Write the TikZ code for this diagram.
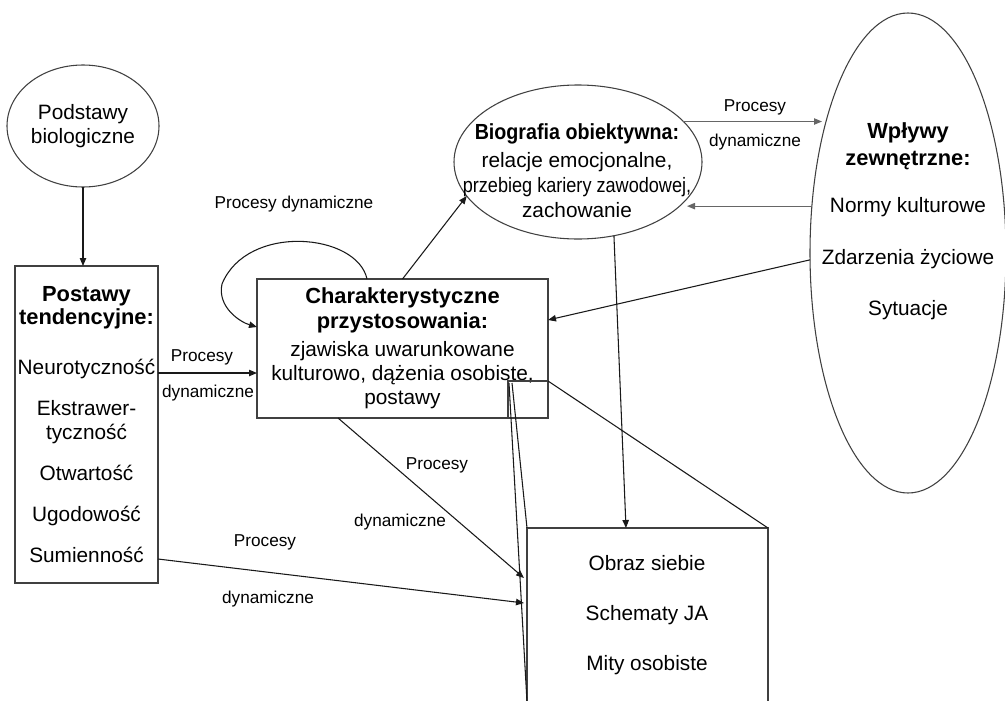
\documentclass[tikz,border=0pt]{standalone}
\usepackage{fontspec}
\setmainfont{Liberation Sans}
\usepackage{graphicx}
\usetikzlibrary{shapes.geometric,arrows.meta,calc}
\newcommand\myhd[1]{{\fontsize{16.4pt}{18pt}\selectfont\bfseries #1}}
\begin{document}
\begin{tikzpicture}[x=0.75pt,y=-0.75pt,
  shp/.style={draw=black!75, line width=0.8pt, inner sep=0pt, outer sep=0pt},
  main/.style={font=\fontsize{15.6pt}{18pt}\selectfont, align=center, inner sep=0pt},
  lab/.style={font=\fontsize{12.9pt}{15pt}\selectfont, inner sep=0pt},
  conn/.style={draw=black!90, line width=0.8pt},
  arr/.style={conn, -{Triangle[length=6pt,width=4.8pt]}},
  garr/.style={arr, draw=black!60}]
\useasboundingbox (0,0) rectangle (1005,700);
\clip (0,0) rectangle (1005,700);

% shapes
\node[shp, ellipse, minimum width=114pt, minimum height=91.5pt, main] (bio) at (83,126) {Podstawy\\biologiczne};
\node[shp, rectangle, minimum width=107.25pt, minimum height=237.75pt, main] (post) at (86.5,424.5)
  {\myhd{Postawy}\\[-0.75pt]\myhd{tendencyjne:}\\[19.5pt]Neurotyczność\\[12.75pt]Ekstrawer-\\tyczność\\[12.75pt]Otwartość\\[12.75pt]Ugodowość\\[12.75pt]Sumienność};
\node[shp, rectangle, minimum width=218.25pt, minimum height=104.25pt, main] (char) at (402.5,348.5)
  {\myhd{Charakterystyczne}\\[0.75pt]\myhd{przystosowania:}\\[3pt]zjawiska uwarunkowane\\kulturowo, dążenia osobiste,\\postawy};
\node[shp, ellipse, minimum width=186pt, minimum height=115.5pt] (biog) at (578,162) {};
\node[main] (biogtxt) at (577,171)
  {\scalebox{0.9}[1]{\myhd{Biografia obiektywna:}}\\[3pt]relacje emocjonalne,\\[0.75pt]\scalebox{0.87}[1]{przebieg kariery zawodowej,}\\[0.75pt]zachowanie};
\node[shp, ellipse, minimum width=147pt, minimum height=360pt] (W) at (908,253) {};
\node[main] (Wtxt) at (908,221.5)
  {\myhd{Wpływy}\\[2.25pt]\myhd{zewnętrzne:}\\[17.25pt]Normy kulturowe\\[21pt]Zdarzenia życiowe\\[20.25pt]Sytuacje};
\node[shp, rectangle, minimum width=180.75pt, minimum height=130.5pt] (box) at (647.5,615) {};
\node[main] (boxtxt) at (647,615) {Obraz siebie\\[19.5pt]Schematy JA\\[19.5pt]Mity osobiste};
\node[shp, rectangle, minimum width=30pt, minimum height=27.75pt, anchor=south east] (mag) at (char.south east) {};

% connectors
\draw[arr] (bio.south) -- (bio.south |- post.north);
\draw[arr] ($(post.north east)+(0,107)$) -- ($(char.north west)+(0,94)$);
\coordinate (cn) at (char.north west);
\draw[arr] ($(cn)+(110,0)$) .. controls ($(cn)+(100,-46)$) and ($(cn)+(-10,-56)$) .. ($(cn)+(-35,5)$)
  .. controls ($(cn)+(-40,28)$) and ($(cn)+(-17,43)$) .. ($(cn)+(0,48)$);
\draw[arr] (char.north) -- (biog.197.4);
\draw[garr] (biog.21.3) -- ($(biog.21.3 -| W.west)+(12,0)$);
\draw[garr] (W.154) -- ($(W.154 -| biog.east)+(-15,0)$);
\draw[arr] (W.184) -- ($(char.north east)+(0,41)$);
\draw[arr] (biog.-64.7) -- ($(box.north west)+(99,0)$);
\draw[arr] ($(char.south west)+(81,0)$) -- ($(box.north west)+(-3,50)$);
\draw[arr] ($(post.south east)+(0,-24)$) -- ($(box.north west)+(-3,75)$);
\draw[conn] (mag.north east) -- (box.north east);
\draw[conn] ($(mag.north west)+(1,2)$) -- (box.south west);
\draw[conn] ($(mag.north west)+(4,2)$) -- (box.north west);

% labels
\node[lab] (l1) at (294,204) {Procesy dynamiczne};
\node[lab] (l2) at (755,107) {Procesy};
\node[lab] (l3) at (755,142) {dynamiczne};
\node[lab] (l4) at (202,357) {Procesy};
\node[lab] (l5) at (208,393) {dynamiczne};
\node[lab] (l6) at (437,465) {Procesy};
\node[lab] (l7) at (400,522) {dynamiczne};
\node[lab] (l8) at (265,542) {Procesy};
\node[lab] (l9) at (268,599) {dynamiczne};
\end{tikzpicture}
\end{document}
